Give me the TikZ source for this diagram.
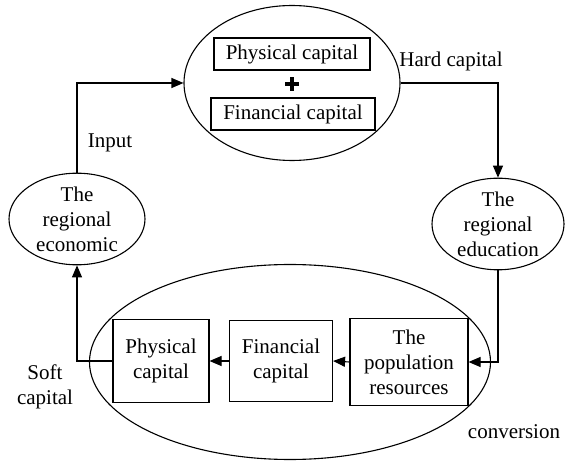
\documentclass[tikz,border=0pt]{standalone}
\usepackage{fontspec}
\setmainfont{Liberation Serif}
\usepackage{tikz}
\usetikzlibrary{arrows.meta,positioning,shapes.geometric}

\begin{document}
\begin{tikzpicture}[x=1pt,y=-1pt,>={Triangle[length=12pt,width=10pt]},
    line width=1.1pt,
    every node/.style={font=\fontsize{21}{25}\selectfont},
    oval/.style={draw,ellipse,inner sep=0pt,align=center},
    capbox/.style={draw,inner sep=0pt,align=center}]
      \useasboundingbox (0,0) rectangle (565,462);
      % upper part: hard capital
      \node[oval,minimum width=216pt,minimum height=155pt] (hard) at (292,83) {};
      \node[capbox,minimum width=156pt,minimum height=32pt] (hphys) at (292,54) {Physical capital};
      \node[capbox,minimum width=164pt,minimum height=32pt] (hfin) at (293,114) {Financial capital};
      \coordinate (plus) at (292,84);
      \draw[line width=3.8pt] ([xshift=-7pt]plus) -- ([xshift=7pt]plus);
      \draw[line width=3.8pt] ([yshift=-7pt]plus) -- ([yshift=7pt]plus);
      \node[oval,minimum width=136pt,minimum height=88pt] (econ) at (77,219) {The\\regional\\economic};
      \node[oval,minimum width=132pt,minimum height=88pt] (edu) at (498,224) {The\\regional\\education};
      % lower part: soft capital
      \node[oval,minimum width=401pt,minimum height=195pt] (soft) at (290,362) {};
      \node[capbox,minimum width=96pt,minimum height=83pt] (sphys) at (161,361) {Physical\\capital};
      \node[capbox,minimum width=103pt,minimum height=81pt] (sfin) at (281,361) {Financial\\capital};
      \node[capbox,minimum width=118pt,minimum height=87pt] (pop) at (409,362) {The\\population\\resources};
      \draw[->] (econ.north) |- (hard.west);
      \draw[->] (hard.east) -| (edu.north);
      \draw[->] (edu.south) |- (pop.east);
      \draw[->] (pop.west) -- (sfin.east);
      \draw[->] (sfin.west) -- (sphys.east);
      \draw[->] (sphys.west) -| (econ.south);
      \node (input) at (110,143) {Input};
      \node (hardlbl) at (451,61) {Hard capital};
      \node[align=center] (softlbl) at (45,387) {Soft\\capital};
      \node (conv) at (514,432) {conversion};
    \end{tikzpicture}
\end{document}
